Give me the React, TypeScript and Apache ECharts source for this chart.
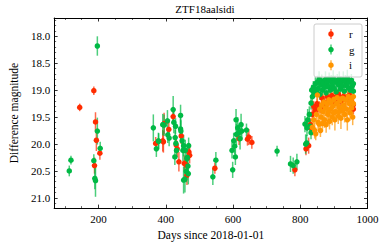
import React, { useEffect, useRef } from "react";
import * as echarts from "echarts";

// [day, magnitude, error]
const rPoints: [number, number, number][] = [
  [144, 19.32, 0.07], [186, 19.01, 0.08], [188, 20.40, 0.15], [191, 19.59, 0.18], [193.6, 19.93, 0.2], [204, 20.17, 0.12],
  [370, 19.99, 0.12], [391, 19.94, 0.2], [393, 19.96, 0.2], [395, 19.62, 0.2], [409, 19.73, 0.15], [422, 19.49, 0.12],
  [431, 20.02, 0.15], [434, 20.09, 0.15], [439, 20.33, 0.18], [446, 19.85, 0.15], [455, 20.36, 0.15], [461, 20.39, 0.15],
  [463, 20.58, 0.18], [469, 20.15, 0.15], [471, 20.21, 0.15],
  [546, 20.45, 0.1],
  [618, 19.9, 0.12], [643, 19.91, 0.12], [647, 19.87, 0.15], [656, 19.97, 0.12],
  [784, 20.48, 0.12],
  [817, 20.09, 0.12], [825, 20.03, 0.15], [830, 19.64, 0.12], [832, 19.70, 0.12], [836, 19.45, 0.12], [840, 19.30, 0.1],
  [845, 19.38, 0.1], [850, 19.25, 0.1], [855, 19.32, 0.1], [860, 19.33, 0.1], [865, 19.15, 0.1], [870, 19.22, 0.1],
  [875, 19.27, 0.1], [880, 19.12, 0.1], [885, 19.2, 0.1], [889, 19.18, 0.1], [894, 19.10, 0.1], [900, 19.22, 0.1],
  [905, 19.13, 0.1], [908, 19.15, 0.1], [914, 19.08, 0.1], [920, 19.2, 0.1], [928, 19.12, 0.1], [935, 19.17, 0.1],
  [942, 19.12, 0.1], [947, 19.09, 0.1], [952, 19.22, 0.1], [958, 19.27, 0.1], [958, 19.35, 0.1],
];

const gPoints: [number, number, number][] = [
  [113, 20.50, 0.1], [118, 20.30, 0.08], [186, 20.31, 0.12], [189, 20.64, 0.2], [191, 20.68, 0.3],
  [196.5, 18.18, 0.18], [196.5, 19.76, 0.25], [205, 20.08, 0.12],
  [363, 19.70, 0.25], [372, 20.09, 0.15], [378, 19.94, 0.15], [379, 19.95, 0.15], [391, 19.64, 0.2], [395, 19.65, 0.2],
  [405, 19.57, 0.2], [406, 19.83, 0.15], [410, 19.89, 0.15], [422, 19.36, 0.25], [424, 19.60, 0.2], [427, 20.24, 0.15],
  [428, 19.88, 0.15], [429, 19.67, 0.15], [430, 19.99, 0.15], [432, 20.12, 0.15], [444, 19.47, 0.2], [444, 19.72, 0.2],
  [445, 19.76, 0.2], [448.5, 19.94, 0.2], [451, 20.12, 0.2], [453, 20.03, 0.2], [453, 20.67, 0.25], [457, 20.65, 0.25],
  [458, 20.12, 0.2], [461, 20.51, 0.2], [463, 20.27, 0.2], [464, 20.25, 0.2], [466, 20.41, 0.2], [467, 20.55, 0.2],
  [468, 20.03, 0.15],
  [540, 20.61, 0.15], [549, 20.30, 0.15],
  [597, 20.12, 0.15], [599, 20.48, 0.15], [602, 19.94, 0.15], [605, 20.04, 0.15], [607, 20.24, 0.15], [609, 19.55, 0.2],
  [610, 19.82, 0.2], [614, 19.70, 0.2], [617, 19.79, 0.15], [621, 19.9, 0.2], [624, 19.64, 0.2], [626, 19.76, 0.15],
  [640, 19.74, 0.12],
  [731, 20.13, 0.1],
  [771, 20.37, 0.15], [779, 20.40, 0.15], [790, 20.33, 0.15],
  [814, 19.63, 0.15], [816, 20.00, 0.18], [819, 19.98, 0.15], [820, 19.70, 0.15], [822, 19.55, 0.2], [827, 19.45, 0.15],
  [829, 19.67, 0.12], [832, 19.79, 0.12], [832, 19.24, 0.12], [834, 19.00, 0.1], [836, 19.12, 0.12], [839, 18.95, 0.12],
  [842, 19.05, 0.1], [845, 18.88, 0.12], [848, 19.02, 0.1], [851, 18.85, 0.12], [853, 18.97, 0.1], [856, 18.80, 0.15],
  [858, 19.08, 0.1], [861, 18.90, 0.12], [864, 18.83, 0.12], [866, 19.00, 0.1], [869, 18.87, 0.1], [872, 18.95, 0.12],
  [875, 18.80, 0.15], [877, 19.05, 0.1], [880, 18.86, 0.12], [883, 18.93, 0.1], [886, 18.79, 0.12], [889, 19.00, 0.1],
  [892, 18.84, 0.12], [895, 18.92, 0.12], [898, 18.78, 0.15], [901, 18.97, 0.1], [904, 18.85, 0.12], [907, 19.03, 0.1],
  [910, 18.82, 0.12], [913, 18.90, 0.12], [916, 18.79, 0.14], [919, 18.98, 0.1], [922, 18.86, 0.12], [925, 18.93, 0.1],
  [928, 18.80, 0.15], [931, 19.02, 0.1], [934, 18.84, 0.12], [937, 18.91, 0.12], [940, 18.78, 0.16], [943, 18.96, 0.1],
  [946, 18.85, 0.12], [949, 19.00, 0.1], [952, 18.82, 0.12], [955, 18.92, 0.12], [958, 18.88, 0.1], [958, 19.02, 0.1],
];

const iPoints: [number, number, number][] = [
  [836, 19.69, 0.15], [840, 19.55, 0.15], [843, 19.75, 0.15], [846, 19.81, 0.12], [848, 19.45, 0.15], [851, 19.09, 0.12],
  [853, 19.60, 0.15], [856, 19.63, 0.15], [858, 19.35, 0.15], [860, 19.75, 0.12], [862, 19.50, 0.15], [864, 19.28, 0.15],
  [866, 19.62, 0.15], [868, 19.40, 0.15], [870, 19.22, 0.15], [872, 19.55, 0.15], [875, 19.33, 0.15], [877, 19.64, 0.15],
  [880, 19.25, 0.15], [882, 19.45, 0.15], [885, 19.18, 0.15], [887, 19.58, 0.15], [890, 19.35, 0.15], [892, 19.22, 0.15],
  [895, 19.50, 0.15], [897, 19.30, 0.15], [900, 19.17, 0.15], [903, 19.55, 0.2], [905, 19.40, 0.15], [908, 19.25, 0.15],
  [910, 19.14, 0.15], [913, 19.48, 0.15], [916, 19.32, 0.15], [918, 19.20, 0.15], [921, 19.52, 0.2], [924, 19.38, 0.15],
  [926, 19.15, 0.15], [929, 19.28, 0.15], [932, 19.45, 0.15], [935, 19.18, 0.15], [938, 19.35, 0.15], [940, 19.55, 0.2],
  [943, 19.12, 0.15], [946, 19.25, 0.15], [948, 19.42, 0.15], [951, 19.18, 0.15], [953, 19.33, 0.15], [956, 19.50, 0.15],
  [958, 19.25, 0.15], [958, 19.12, 0.12], [884, 19.40, 0.15], [899, 19.42, 0.15], [915, 19.40, 0.15], [930, 19.35, 0.15],
];

const bands = [
  { name: "r", color: "#FF2C00", points: rPoints },
  { name: "g", color: "#00B945", points: gPoints },
  { name: "i", color: "#FF9500", points: iPoints },
];

const titleText = "ZTF18aalsidi";
const xName = "Days since 2018-01-01";
const yName = "Difference magnitude";
const xMin = 68, xMax = 1000;
const yMin = 17.66, yMax = 21.19;

const FONT = "Liberation Serif";

export default function App() {
  const ref = useRef<HTMLDivElement>(null);
  useEffect(() => {
    if (!ref.current) return;
    const chart = echarts.init(ref.current, undefined, { renderer: "svg" });
    const axisCommon = {
      axisLine: { show: true, onZero: false, lineStyle: { color: "#000", width: 1 } },
      axisTick: { show: true, inside: true, length: 3.5, lineStyle: { color: "#000", width: 0.8 } },
      minorTick: { show: true, length: 2, lineStyle: { color: "#000", width: 0.6 } },
      splitLine: { show: false },
    };
    const xCommon = {
      ...axisCommon,
      type: "value",
      min: xMin,
      max: xMax,
      minInterval: 200,
      maxInterval: 200,
      minorTick: { ...axisCommon.minorTick, splitNumber: 4 },
    };
    const yCommon = {
      ...axisCommon,
      type: "value",
      min: yMin,
      max: yMax,
      inverse: true,
      minInterval: 0.5,
      maxInterval: 0.5,
      minorTick: { ...axisCommon.minorTick, splitNumber: 5 },
    };
    const series: any[] = [];
    bands.forEach((b) => {
      series.push({
        type: "custom",
        name: b.name + "-err",
        data: b.points,
        encode: { x: 0, y: 1 },
        clip: true,
        silent: true,
        renderItem: (_p: any, api: any) => {
          const x = api.value(0), y = api.value(1), e = api.value(2);
          const p1 = api.coord([x, y - e]);
          const p2 = api.coord([x, y + e]);
          return {
            type: "line",
            shape: { x1: p1[0], y1: p1[1], x2: p2[0], y2: p2[1] },
            style: { stroke: b.color, lineWidth: 1.5, opacity: 0.7 },
          };
        },
      });
      series.push({
        type: "scatter",
        name: b.name,
        data: b.points.map((p) => [p[0], p[1]]),
        symbol: "circle",
        symbolSize: 5.5,
        itemStyle: { color: b.color, opacity: 1 },
        silent: true,
      });
    });
    const legendX = 314, legendY = 24, legendW = 48, legendH = 53;
    const legendItems = bands.map((b, k) => {
      const cy = 34 + k * 15.6;
      return [
        { type: "line", shape: { x1: 331, y1: cy - 5, x2: 331, y2: cy + 5 }, style: { stroke: b.color, lineWidth: 1.5, opacity: 0.7 }, z: 101 },
        { type: "circle", shape: { cx: 331, cy, r: 2.75 }, style: { fill: b.color }, z: 102 },
        { type: "text", x: 349, y: cy, style: { text: b.name, fontFamily: FONT, fontSize: 11, fill: "#000", align: "left", verticalAlign: "middle" }, z: 102 },
      ];
    }).flat();
    chart.setOption({
      animation: false,
      backgroundColor: "#fff",
      textStyle: { fontFamily: FONT },
      grid: { left: 43, right: 14.5, top: 18, bottom: 34, containLabel: false },
      xAxis: [
        {
          ...xCommon,
          position: "bottom",
          name: xName,
          nameLocation: "middle",
          nameGap: 18.5,
          nameTextStyle: { fontFamily: FONT, fontSize: 11.5, color: "#000" },
          axisLabel: {
            show: true, showMinLabel: false, margin: 5, fontFamily: FONT, fontSize: 11, color: "#000",
            formatter: (v: number) => String(Math.round(v)),
          },
        },
        { ...xCommon, position: "top", axisLabel: { show: false } },
      ],
      yAxis: [
        {
          ...yCommon,
          position: "left",
          name: yName,
          nameLocation: "middle",
          nameGap: 27,
          nameTextStyle: { fontFamily: FONT, fontSize: 11.5, color: "#000" },
          axisLabel: {
            show: true, showMinLabel: false, showMaxLabel: false, margin: 4,
            fontFamily: FONT, fontSize: 11, color: "#000",
            formatter: (v: number) => v.toFixed(1),
          },
        },
        { ...yCommon, position: "right", axisLabel: { show: false } },
      ],
      series,
      graphic: [
        { type: "text", x: 205, y: 8.5, style: { text: titleText, fontFamily: FONT, fontSize: 11, fill: "#000", align: "center", verticalAlign: "middle" }, z: 100 },
        { type: "rect", shape: { x: legendX, y: legendY, width: legendW, height: legendH, r: 2 }, style: { fill: "rgba(255,255,255,0.8)", stroke: "#cccccc", lineWidth: 1 }, z: 100 },
        ...legendItems,
      ],
    });
    return () => chart.dispose();
  }, []);
  return (
    <div
      ref={ref}
      style={{ position: "absolute", left: 0, top: 0, width: 382, height: 246, background: "#fff" }}
    />
  );
}
